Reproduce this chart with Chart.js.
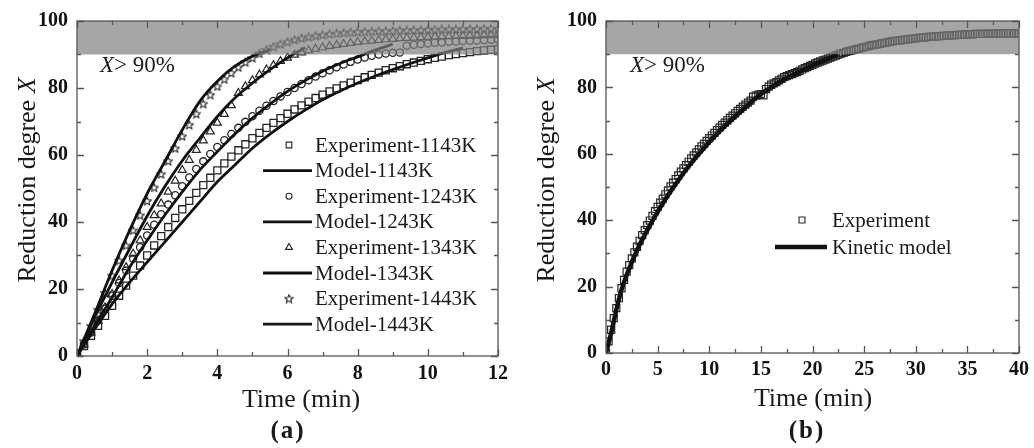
<!DOCTYPE html>
<html>
<head>
<meta charset="utf-8">
<script src="https://cdn.jsdelivr.net/npm/chart.js@4.4.0/dist/chart.umd.min.js"></script>
<style>
html, body { margin: 0; padding: 0; background: #fff; }
#wrap { position: relative; width: 1034px; height: 448px; }
canvas { position: absolute; top: 0; }
#chartA { left: 0; }
#chartB { left: 517px; }
</style>
</head>
<body>
<div id="wrap">
  <canvas id="chartA" width="517" height="448"></canvas>
  <canvas id="chartB" width="517" height="448"></canvas>
</div>
<script>
// ---- panel (a) data ----
var timesA = [0,0.2,0.4,0.6,0.8,1,1.2,1.4,1.6,1.8,2,2.2,2.4,2.6,2.8,3,3.2,3.4,3.6,3.8,4,4.2,4.4,4.6,4.8,5,5.2,5.4,5.6,5.8,6,6.2,6.4,6.6,6.8,7,7.2,7.4,7.6,7.8,8,8.2,8.4,8.6,8.8,9,9.2,9.4,9.6,9.8,10,10.2,10.4,10.6,10.8,11,11.2,11.4,11.6,11.8,12];
var exp1143 = [0,3,6,9,12,15,18,21,24,27,30,33,35.8,38.5,41.2,43.8,46.3,48.7,51,53.2,55.4,57.5,59.5,61.4,63.2,65,66.6,68.1,69.6,71,72.3,73.6,74.8,75.9,77,78,79,79.9,80.8,81.6,82.4,83.2,83.9,84.6,85.3,85.9,86.5,87.1,87.6,88.1,88.6,89,89.4,89.8,90.1,90.4,90.7,91,91.2,91.4,91.6];
var exp1243 = [0,3.5,7,10.5,14.2,18,21.8,25.5,29,32.5,36,39.2,42.3,45.2,48,50.7,53.3,55.8,58.1,60.3,62.4,64.4,66.3,68.1,69.9,71.6,73.2,74.7,76.1,77.5,78.8,80,81.2,82.3,83.4,84.4,85.3,86.2,87,87.8,88.5,89.1,89.6,90,90.3,90.5,90.6,92.6,92.9,93.1,93.3,93.5,93.6,93.8,93.9,94,94.1,94.2,94.3,94.4,94.5];
var exp1343 = [0,3.5,7,10.5,14.5,18.5,22.5,26.5,30.5,34.5,38.5,42,45.5,49,52.3,55.5,58.5,61.5,64.3,67,69.6,72.2,74.8,78.5,80.5,82.3,84,85.5,86.8,88,89,89.9,90.6,91.2,91.7,92.1,92.5,92.8,93.1,93.4,93.7,93.9,94.1,94.3,94.5,94.6,94.8,94.9,95,95.1,95.2,95.3,95.4,95.4,95.5,95.5,95.6,95.6,95.7,95.7,95.8];
var exp1443 = [0,4.5,9,13.8,18.8,24,28.5,33,37.5,42,46.3,50.3,54.3,58.2,62,65.6,69,72.3,75.3,78,80.5,82.6,84.5,86.2,87.7,89,90.3,91.4,92.3,93.1,93.8,94.4,94.9,95.3,95.6,95.9,96.1,96.3,96.5,96.6,96.7,96.8,96.9,97,97,97.1,97.2,97.2,97.3,97.3,97.4,97.4,97.5,97.5,97.5,97.6,97.6,97.6,97.7,97.7,97.7];

var modelTimesA = [0,0.5,1,1.5,2,2.5,3,3.5,4,4.5,5,5.5,6,6.5,7,7.5,8,8.5,9,9.5,10,10.5,11];
var model1143 = [0,8,15.5,22,28,34,40,46,52,57,62,66.2,70,73.4,76.5,79.1,81.5,83.6,85.5,87.3,89,90.6,92];
var model1243 = [0,9,17.5,26.5,34.5,42,49,55.5,61,66.3,71,75.2,79,82.2,85,87.3,89.3,91.3,93.1];
var model1343 = [0,11.5,22,32,41.8,50.5,58.3,65,71.5,77,81.5,85.5,89,92];
var model1443 = [0,12.5,25.5,37.5,48.5,58,67.5,76,82,86.5,89.5,91.5];

// ---- panel (b) data ----
var timesB = [
    0,0.25,0.5,0.75,1,1.25,1.5,1.75,
    2,2.25,2.5,2.75,3,3.25,3.5,3.75,
    4,4.25,4.5,4.75,5,5.25,5.5,5.75,
    6,6.25,6.5,6.75,7,7.25,7.5,7.75,
    8,8.25,8.5,8.75,9,9.25,9.5,9.75,
    10,10.25,10.5,10.75,11,11.25,11.5,11.75,
    12,12.25,12.5,12.75,13,13.25,13.5,13.75,
    14,14.25,14.5,14.75,15,15.25,15.5,15.75,
    16,16.25,16.5,16.75,17,17.25,17.5,17.75,
    18,18.25,18.5,18.75,19,19.25,19.5,19.75,
    20,20.25,20.5,20.75,21,21.25,21.5,21.75,
    22,22.25,22.5,22.75,23,23.25,23.5,23.75,
    24,24.25,24.5,24.75,25,25.25,25.5,25.75,
    26,26.25,26.5,26.75,27,27.25,27.5,27.75,
    28,28.25,28.5,28.75,29,29.25,29.5,29.75,
    30,30.25,30.5,30.75,31,31.25,31.5,31.75,
    32,32.25,32.5,32.75,33,33.25,33.5,33.75,
    34,34.25,34.5,34.75,35,35.25,35.5,35.75,
    36,36.25,36.5,36.75,37,37.25,37.5,37.75,
    38,38.25,38.5,38.75,39,39.25,39.5,39.75,
    40];
var expB = [
    0,3.5,7,10.5,13.5,16.5,19.5,22,
    24.5,26.5,28.5,30.3,32,33.8,35.5,37,
    38.5,39.9,41.3,42.7,44,45.3,46.5,47.8,
    49,50.2,51.3,52.4,53.5,54.6,55.6,56.6,
    57.6,58.6,59.5,60.4,61.3,62.2,63,63.9,
    64.7,65.5,66.3,67.1,67.9,68.7,69.4,70.1,
    70.8,71.5,72.2,72.9,73.5,74.2,74.8,75.4,
    76,77.2,77.5,77.8,78,77.6,79.5,80.2,
    80.8,81.2,81.6,82.1,82.6,83.1,83.4,83.7,
    84,84.3,84.6,85,85.4,85.8,86.1,86.5,
    86.8,87.2,87.5,87.8,88.1,88.4,88.7,89,
    89.3,89.6,89.9,90.2,90.4,90.7,90.9,91.1,
    91.3,91.5,91.7,91.9,92.1,92.3,92.5,92.7,
    92.8,93,93.1,93.3,93.4,93.6,93.7,93.9,
    94,94.1,94.2,94.3,94.4,94.5,94.6,94.7,
    94.8,94.9,95,95,95.1,95.2,95.3,95.3,
    95.4,95.4,95.5,95.5,95.6,95.6,95.7,95.7,
    95.8,95.8,95.9,95.9,96,96,96,96.1,
    96.1,96.1,96.1,96.2,96.2,96.2,96.2,96.2,
    96.2,96.3,96.3,96.3,96.3,96.3,96.3,96.3,
    96.3];
var modelTimesB = [0,0.5,1,1.5,2,3,4,5,6,7,8,9,10,11,12,13,14,15,16,17,18,19,20,21,22,22.5];
var modelB = [0,6,13,19,23.5,31,37,42.5,47.5,52,56.2,60,63.5,66.8,69.8,72.6,75.4,78,80,82,83.6,85.1,86.6,88,89.3,90];

var serif = "'Liberation Serif', 'Times New Roman', serif";
var markColor = '#262626';

function pts(xs, ys) {
    return ys.map(function(v, i) { return { x: xs[i], y: v }; });
}

function makeStar(size, color) {
    var c = document.createElement('canvas');
    c.width = c.height = size;
    var g = c.getContext('2d');
    g.strokeStyle = color;
    g.lineWidth = 1.1;
    var r = size / 2 - 0.7, ri = r * 0.45, cx = size / 2, cy = size / 2 + 0.4;
    g.beginPath();
    for (var i = 0; i < 10; i++) {
        var ang = -Math.PI / 2 + i * Math.PI / 5;
        var rr = i % 2 ? ri : r;
        g.lineTo(cx + rr * Math.cos(ang), cy + rr * Math.sin(ang));
    }
    g.closePath();
    g.stroke();
    return c;
}
var starImg = makeStar(10, markColor);

function drawMixed(ctx, parts, x, y, align) {
    var total = 0;
    parts.forEach(function(p) { ctx.font = p[1]; total += ctx.measureText(p[0]).width; });
    var cx = align === 'center' ? x - total / 2 : x;
    ctx.textAlign = 'left';
    parts.forEach(function(p) {
        ctx.font = p[1];
        ctx.fillText(p[0], cx, y);
        cx += ctx.measureText(p[0]).width;
    });
}

var decor = {
    id: 'decor',
    afterDatasetsDraw: function(chart, args, o) {
        var ctx = chart.ctx, a = chart.chartArea, ys = chart.scales.y;
        ctx.save();
        // shaded X > 90% band, laid over the data
        var y100 = ys.getPixelForValue(100), y90 = ys.getPixelForValue(90);
        ctx.fillStyle = 'rgba(128,128,128,0.7)';
        ctx.fillRect(a.left, y100, a.right - a.left, y90 - y100);
        ctx.fillStyle = '#1a1a1a';
        ctx.textBaseline = 'middle';
        drawMixed(ctx, [['X', 'italic 23px ' + serif], ['> 90%', '23px ' + serif]], o.noteX, o.noteY, 'left');

        // legend
        o.legend.forEach(function(it, i) {
            var y = o.legendTop + i * o.legendStep;
            if (it.line) {
                ctx.strokeStyle = '#111';
                ctx.lineWidth = it.line;
                ctx.beginPath();
                ctx.moveTo(o.lineFrom, y);
                ctx.lineTo(o.lineTo, y);
                ctx.stroke();
            } else {
                ctx.strokeStyle = markColor;
                ctx.fillStyle = 'rgba(0,0,0,0)';
                ctx.lineWidth = 1.1;
                Chart.helpers.drawPoint(ctx, { pointStyle: it.style, radius: it.radius, rotation: 0, borderWidth: 1.1 }, o.markX, y);
            }
            ctx.fillStyle = '#1a1a1a';
            ctx.font = o.legendFont + 'px ' + serif;
            ctx.textAlign = 'left';
            ctx.textBaseline = 'middle';
            ctx.fillText(it.label, o.textX, y + 1);
        });
        ctx.restore();
    },
    afterDraw: function(chart, args, o) {
        var ctx = chart.ctx, a = chart.chartArea, xs = chart.scales.x, ys = chart.scales.y;
        ctx.save();
        ctx.strokeStyle = '#555';
        ctx.lineWidth = 1.3;
        ctx.strokeRect(a.left, a.top, a.right - a.left, a.bottom - a.top);
        ctx.beginPath();
        var v, p, major, len;
        for (v = xs.min; v <= xs.max + 1e-9; v += o.xMinor) {
            p = Math.round(xs.getPixelForValue(v)) + 0.5;
            major = Math.abs(v / o.xMajor - Math.round(v / o.xMajor)) < 1e-6;
            len = major ? 7 : 4;
            ctx.moveTo(p, a.bottom); ctx.lineTo(p, a.bottom - len);
            ctx.moveTo(p, a.top); ctx.lineTo(p, a.top + len);
        }
        for (v = ys.min; v <= ys.max + 1e-9; v += 10) {
            p = Math.round(ys.getPixelForValue(v)) + 0.5;
            major = v % 20 === 0;
            len = major ? 7 : 4;
            ctx.moveTo(a.left, p); ctx.lineTo(a.left + len, p);
            ctx.moveTo(a.right, p); ctx.lineTo(a.right - len, p);
        }
        ctx.stroke();

        // axis titles and panel label
        ctx.fillStyle = '#1a1a1a';
        ctx.textBaseline = 'middle';
        ctx.save();
        ctx.translate(o.yTitleX, o.yTitleY);
        ctx.rotate(-Math.PI / 2);
        drawMixed(ctx, [['Reduction degree ', '26px ' + serif], ['X', 'italic 26px ' + serif]], 0, 0, 'center');
        ctx.restore();
        drawMixed(ctx, [['Time (min)', '26px ' + serif]], o.xTitleX, o.xTitleY, 'center');
        if ('letterSpacing' in ctx) ctx.letterSpacing = '2px';
        drawMixed(ctx, [[o.panel, 'bold 25px ' + serif]], o.panelX, o.panelY, 'center');
        ctx.restore();
    }
};

function scales(xMax, xStep, yWidth, xHeight, xPad) {
    return {
        x: {
            type: 'linear', min: 0, max: xMax,
            ticks: { stepSize: xStep, color: '#111', padding: xPad, maxRotation: 0,
                     font: { family: serif, size: 20, weight: 'bold' } },
            grid: { display: false, drawTicks: false },
            border: { display: false },
            afterFit: function(s) { s.height = xHeight; }
        },
        y: {
            type: 'linear', min: 0, max: 100,
            ticks: { stepSize: 20, color: '#111', padding: 9,
                     font: { family: serif, size: 20, weight: 'bold' } },
            grid: { display: false, drawTicks: false },
            border: { display: false },
            afterFit: function(s) { s.width = yWidth; }
        }
    };
}

function expSet(label, data, style, radius, bw) {
    return {
        label: label, data: data, showLine: false, order: 2,
        pointStyle: style, pointRadius: radius, pointBorderWidth: bw,
        pointBorderColor: markColor, pointBackgroundColor: 'rgba(0,0,0,0)'
    };
}
function modelSet(label, data, width) {
    return {
        label: label, data: data, order: 1, borderColor: '#111', borderWidth: width,
        pointRadius: 0, cubicInterpolationMode: 'monotone', fill: false
    };
}

new Chart(document.getElementById('chartA'), {
    type: 'line',
    data: {
        datasets: [
            modelSet('Model-1143K', pts(modelTimesA, model1143), 2.8),
            modelSet('Model-1243K', pts(modelTimesA, model1243), 2.8),
            modelSet('Model-1343K', pts(modelTimesA, model1343), 2.8),
            modelSet('Model-1443K', pts(modelTimesA, model1443), 2.8),
            expSet('Experiment-1143K', pts(timesA, exp1143), 'rect', 5, 1.3),
            expSet('Experiment-1243K', pts(timesA, exp1243), 'circle', 3.6, 1.3),
            expSet('Experiment-1343K', pts(timesA, exp1343), 'triangle', 4.6, 1.2),
            expSet('Experiment-1443K', pts(timesA, exp1443), starImg, 4, 1)
        ]
    },
    options: {
        responsive: false, animation: false, devicePixelRatio: 1, events: [],
        layout: { padding: { top: 19, right: 19, left: 0, bottom: 0 } },
        scales: scales(12, 2, 77, 92, 6),
        plugins: {
            legend: { display: false },
            tooltip: { enabled: false },
            decor: {
                xMajor: 2, xMinor: 1,
                noteX: 100, noteY: 66,
                yTitleX: 28, yTitleY: 180,
                xTitleX: 301, xTitleY: 400,
                panel: '(a)', panelX: 288, panelY: 432,
                legendTop: 145, legendStep: 25.6, legendFont: 21,
                markX: 289, lineFrom: 263, lineTo: 312, textX: 315,
                legend: [
                    { label: 'Experiment-1143K', style: 'rect', radius: 4 },
                    { label: 'Model-1143K', line: 2.8 },
                    { label: 'Experiment-1243K', style: 'circle', radius: 3 },
                    { label: 'Model-1243K', line: 2.8 },
                    { label: 'Experiment-1343K', style: 'triangle', radius: 4 },
                    { label: 'Model-1343K', line: 2.8 },
                    { label: 'Experiment-1443K', style: starImg, radius: 4 },
                    { label: 'Model-1443K', line: 2.8 }
                ]
            }
        }
    },
    plugins: [decor]
});

new Chart(document.getElementById('chartB'), {
    type: 'line',
    data: {
        datasets: [
            modelSet('Kinetic model', pts(modelTimesB, modelB), 4.5),
            expSet('Experiment', pts(timesB, expB), 'rect', 5, 1.2)
        ]
    },
    options: {
        responsive: false, animation: false, devicePixelRatio: 1, events: [],
        layout: { padding: { top: 20, right: 13, left: 0, bottom: 0 } },
        scales: scales(40, 5, 89, 95, 5),
        plugins: {
            legend: { display: false },
            tooltip: { enabled: false },
            decor: {
                xMajor: 5, xMinor: 2.5,
                noteX: 113, noteY: 66,
                yTitleX: 30, yTitleY: 180,
                xTitleX: 296, xTitleY: 399,
                panel: '(b)', panelX: 290, panelY: 432,
                legendTop: 220, legendStep: 27, legendFont: 21,
                markX: 285, lineFrom: 258, lineTo: 310, textX: 315,
                legend: [
                    { label: 'Experiment', style: 'rect', radius: 4.2 },
                    { label: 'Kinetic model', line: 4.5 }
                ]
            }
        }
    },
    plugins: [decor]
});
</script>
</body>
</html>
